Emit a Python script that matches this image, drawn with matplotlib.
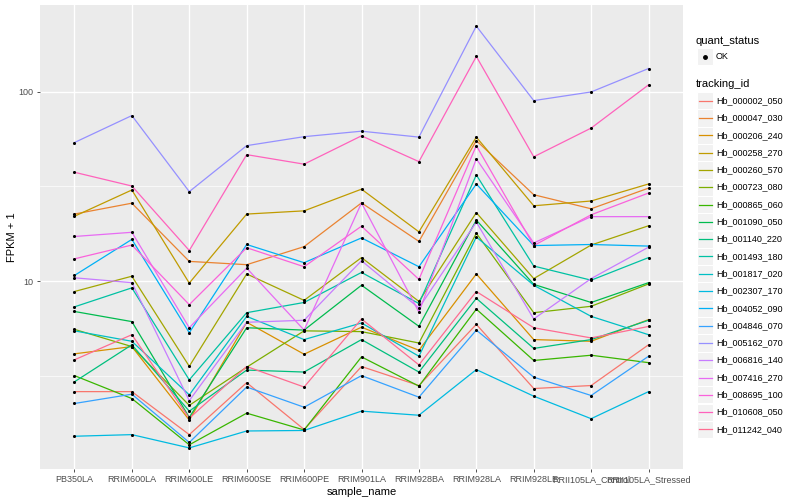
import numpy as np
import matplotlib
matplotlib.use("Agg")
import matplotlib.pyplot as plt
from matplotlib.lines import Line2D
from matplotlib.patches import Rectangle
from matplotlib.ticker import FixedLocator, FixedFormatter

plt.rcParams['font.family'] = ['Liberation Sans', 'DejaVu Sans']

samples = ["PB350LA", "RRIM600LA", "RRIM600LE", "RRIM600SE", "RRIM600PE",
           "RRIM901LA", "RRIM928BA", "RRIM928LA", "RRIM928LE",
           "RRII105LA_Control", "RRII105LA_Stressed"]

tracking_ids = ["Hb_000002_050", "Hb_000047_030", "Hb_000206_240", "Hb_000258_270",
                "Hb_000260_570", "Hb_000723_080", "Hb_000865_060", "Hb_001090_050",
                "Hb_001140_220", "Hb_001493_180", "Hb_001817_020", "Hb_002307_170",
                "Hb_004052_090", "Hb_004846_070", "Hb_005162_070", "Hb_006816_140",
                "Hb_007416_270", "Hb_008695_100", "Hb_010608_050", "Hb_011242_040"]

# ggplot hue palette for 20 levels
colors = ["#F8766D", "#EA8331", "#D89000", "#C09B00", "#A3A500", "#7CAE00",
          "#39B600", "#00BB4E", "#00BF7D", "#00C1A3", "#00BFC4", "#00BAE0",
          "#00B0F6", "#35A2FF", "#9590FF", "#C77CFF", "#E76BF3", "#FA62DB",
          "#FF62BC", "#FF6C91"]

# FPKM + 1 per sample
hb_000002_050 = [2.6, 2.6, 1.54, 2.9, 1.64, 3.53, 2.8, 5.9, 2.7, 2.8, 4.6]
hb_000047_030 = [22.6, 25.8, 12.7, 12.2, 15.2, 25.9, 16.2, 55.3, 28.6, 24.1, 31.0]
hb_000206_240 = [4.12, 4.5, 1.84, 6.05, 4.1, 5.7, 4.3, 10.9, 4.9, 4.8, 6.25]
hb_000258_270 = [22.0, 30.3, 9.75, 22.6, 23.5, 30.6, 18.2, 57.7, 25.0, 26.5, 32.6]
hb_000260_570 = [8.8, 10.6, 3.54, 10.9, 7.9, 13.3, 7.8, 23.0, 10.3, 15.5, 19.6]
hb_000723_080 = [5.55, 4.5, 2.2, 3.5, 5.45, 5.4, 4.7, 17.9, 6.8, 7.35, 9.65]
hb_000865_060 = [3.16, 2.39, 1.36, 2.0, 1.63, 3.97, 2.78, 7.1, 3.8, 4.05, 3.7]
hb_001090_050 = [6.9, 6.1, 1.9, 5.66, 5.5, 9.5, 5.76, 21.0, 9.6, 7.7, 9.8]
hb_001140_220 = [2.93, 4.6, 2.05, 3.38, 3.3, 4.9, 3.3, 8.1, 4.4, 4.9, 6.2]
hb_001493_180 = [7.3, 9.2, 3.0, 6.8, 7.7, 11.1, 7.6, 36.4, 12.0, 10.1, 13.3]
hb_001817_020 = [5.45, 4.8, 2.5, 6.5, 4.9, 6.0, 4.0, 17.1, 9.5, 6.5, 5.2]
hb_002307_170 = [1.51, 1.54, 1.31, 1.61, 1.62, 2.05, 1.95, 3.4, 2.46, 1.87, 2.6]
hb_004052_090 = [10.7, 16.6, 5.33, 15.6, 12.5, 16.9, 11.9, 32.6, 15.4, 15.6, 15.3]
hb_004846_070 = [2.25, 2.52, 1.4, 2.75, 2.15, 3.16, 2.43, 5.5, 3.1, 2.48, 4.0]
hb_005162_070 = [54.0, 75.0, 29.7, 52.0, 58.0, 62.0, 57.7, 223.0, 90.0, 100.0, 133.0]
hb_006816_140 = [10.4, 9.8, 2.33, 6.05, 6.2, 12.8, 7.2, 20.5, 6.3, 10.3, 15.1]
hb_007416_270 = [17.2, 18.1, 5.66, 11.7, 5.5, 25.9, 6.85, 44.3, 15.9, 21.9, 21.9]
hb_008695_100 = [13.1, 15.5, 7.5, 15.0, 11.9, 19.5, 10.2, 52.0, 15.4, 22.4, 29.2]
hb_010608_050 = [37.6, 31.8, 14.5, 46.6, 41.5, 58.6, 42.8, 154.0, 45.4, 64.4, 109.0]
hb_011242_040 = [3.83, 5.2, 1.88, 3.53, 2.75, 6.3, 3.6, 8.8, 5.66, 5.0, 5.75]

series = [hb_000002_050, hb_000047_030, hb_000206_240, hb_000258_270, hb_000260_570,
          hb_000723_080, hb_000865_060, hb_001090_050, hb_001140_220, hb_001493_180,
          hb_001817_020, hb_002307_170, hb_004052_090, hb_004846_070, hb_005162_070,
          hb_006816_140, hb_007416_270, hb_008695_100, hb_010608_050, hb_011242_040]

W, H = 800, 500
def fx(px):
    return px / W
def fy(py):
    return 1 - py / H

fig = plt.figure(figsize=(8, 5), dpi=100)
ax = fig.add_axes([fx(40), fy(469), (683 - 40) / W, (469 - 5) / H])
ax.set_facecolor("#EBEBEB")
for s in ax.spines.values():
    s.set_visible(False)

x = np.arange(len(samples))
for vals, c in zip(series, colors):
    ax.plot(x, vals, color=c, lw=0.9, zorder=2)
for vals in series:
    ax.scatter(x, vals, color="black", s=5, zorder=3, linewidths=0)

ax.set_yscale("log")
allv = np.log10(np.concatenate([np.array(v) for v in series]))
lo, hi = allv.min(), allv.max()
pad = 0.05 * (hi - lo)
ax.set_ylim(10 ** (lo - pad), 10 ** (hi + pad))
ax.set_xlim(-0.6, len(samples) - 0.4)

ax.yaxis.set_major_locator(FixedLocator([1, 10, 100, 1000]))
ax.yaxis.set_major_formatter(FixedFormatter(["1", "10", "100", "1000"]))
ax.yaxis.set_minor_locator(FixedLocator([10 ** 0.5, 10 ** 1.5, 10 ** 2.5]))
ax.yaxis.set_minor_formatter(FixedFormatter(["", "", ""]))
ax.set_xticks(x)
ax.set_xticklabels(samples)

ax.grid(True, which="major", color="white", lw=1.0, zorder=0)
ax.grid(True, which="minor", axis="y", color="white", lw=0.5, zorder=0)
ax.set_axisbelow(True)
ax.tick_params(which="major", length=2.5, width=0.6, color="#333333",
               labelsize=6.5, labelcolor="#4D4D4D", pad=2)
ax.tick_params(which="minor", length=0)

ax.set_xlabel("sample_name", fontsize=8, labelpad=2)
ax.set_ylabel("FPKM + 1", fontsize=8)
ax.yaxis.set_label_coords(-(40 - 17) / (683 - 40), 0.5)

# legend, drawn by hand in ggplot style
def key_box(yc):
    fig.add_artist(Rectangle((fx(697), fy(yc + 8.6)), 16 / W, 17.2 / H,
                             transform=fig.transFigure, facecolor="#F2F2F2",
                             edgecolor="white", lw=0.8))

fig.text(fx(696), fy(40.7), "quant_status", fontsize=8, va="center", ha="left")
key_box(56.7)
fig.add_artist(Line2D([fx(705)], [fy(56.7)], marker="o", color="black",
                      markersize=2.5, transform=fig.transFigure))
fig.text(fx(716), fy(56.7), "OK", fontsize=6.5, va="center", ha="left")

fig.text(fx(696), fy(84.3), "tracking_id", fontsize=8, va="center", ha="left")
for i, (name, c) in enumerate(zip(tracking_ids, colors)):
    yc = 100.7 + 17.3 * i
    key_box(yc)
    fig.add_artist(Line2D([fx(698.5), fx(711.5)], [fy(yc), fy(yc)], color=c,
                          lw=0.9, transform=fig.transFigure))
    fig.text(fx(716), fy(yc), name, fontsize=6.5, va="center", ha="left")

fig.savefig("out.png", dpi=100)
